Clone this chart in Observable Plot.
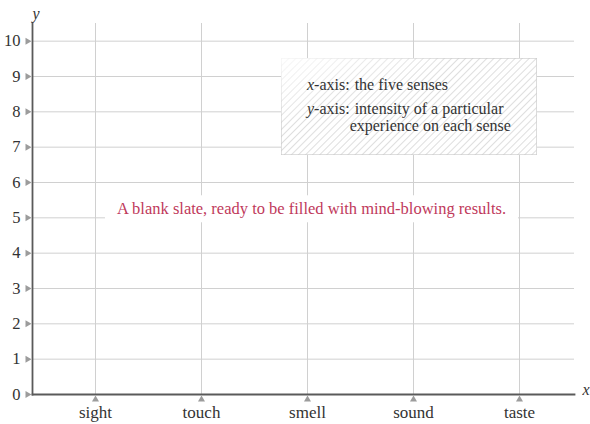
<!DOCTYPE html>
<html><head><meta charset="utf-8">
<script src="https://cdn.jsdelivr.net/npm/d3@7"></script>
<script src="https://cdn.jsdelivr.net/npm/@observablehq/plot@0.6"></script>
<style>body{margin:0;background:#fff}</style>
</head><body>
<script>
const senses = ["sight", "touch", "smell", "sound", "taste"];
const yTicks = [0, 1, 2, 3, 4, 5, 6, 7, 8, 9, 10];
const axisNameX = "x";
const axisNameY = "y";
const legendKeys = ["x", "y"];
const legendLabel = "-axis:";
const legendDescs = [["the five senses"], ["intensity of a particular", "experience on each sense"]];
const note = "A blank slate, ready to be filled with mind-blowing results.";

const FONT = "'Liberation Serif', 'DejaVu Serif', serif";
const INK = "#333";
const GRID = "#d0d0d0";
const AXIS = "#5a5a5a";
const TRI = "#9c9c9c";

const plot = Plot.plot({
  width: 590, height: 424,
  marginLeft: 32, marginRight: 16, marginTop: 23, marginBottom: 30,
  style: {fontFamily: FONT, fontSize: "16px", color: INK, background: "#fff"},
  x: {type: "point", domain: senses, padding: 0, insetLeft: 63, insetRight: 55},
  y: {domain: [0, 10.5]},
  marks: [
    Plot.gridX(senses, {stroke: GRID, strokeOpacity: 1, strokeWidth: 1}),
    Plot.gridY(yTicks, {stroke: GRID, strokeOpacity: 1, strokeWidth: 1}),
    Plot.frame({anchor: "left", stroke: AXIS, strokeWidth: 1.8}),
    Plot.frame({anchor: "bottom", stroke: AXIS, strokeWidth: 1.8}),
    Plot.axisY(yTicks, {tickSize: 0, tickPadding: 12, label: null, fontSize: 16.5}),
    Plot.axisX(senses, {tickSize: 0, tickPadding: 11, label: null, fontSize: 17}),
    Plot.dot(yTicks, {y: d => d, frameAnchor: "left", dx: -5, symbol: "triangle", rotate: 90, r: 2.6, fill: TRI, stroke: null}),
    Plot.dot(senses, {x: d => d, frameAnchor: "bottom", dy: 5, symbol: "triangle", r: 2.6, fill: TRI, stroke: null}),
    Plot.text([axisNameY], {frameAnchor: "top-left", dy: -16, text: d => d, fontStyle: "italic", fontSize: 16}),
    Plot.text([axisNameX], {frameAnchor: "bottom-right", dx: 8, textAnchor: "start", text: d => d, fontStyle: "italic", fontSize: 16}),
    Plot.text([note], {frameAnchor: "middle", dx: 8, dy: 0, text: d => d, fill: "#c0395b", fontSize: 16.5})
  ]
});
document.body.appendChild(plot);

const svg = d3.select(plot);
const xs = plot.scale("x"), ys = plot.scale("y");
const svgRect = plot.getBoundingClientRect();

// white background behind the note
svg.selectAll("text").filter(function() { return this.textContent === note; }).each(function() {
  const r = this.getBoundingClientRect();
  const g = this.parentNode;
  const rect = document.createElementNS("http://www.w3.org/2000/svg", "rect");
  rect.setAttribute("x", r.left - svgRect.left - 12);
  rect.setAttribute("y", r.top - svgRect.top - 4);
  rect.setAttribute("width", r.width + 24);
  rect.setAttribute("height", r.height + 8);
  rect.setAttribute("fill", "#fff");
  g.parentNode.insertBefore(rect, g);
});

// legend box
const defs = svg.append("defs");
const pat = defs.append("pattern").attr("id", "hatch").attr("patternUnits", "userSpaceOnUse")
  .attr("width", 5).attr("height", 5).attr("patternTransform", "rotate(45)");
pat.append("line").attr("x1", 0).attr("y1", 0).attr("x2", 0).attr("y2", 5)
  .attr("stroke", "#bdbdbd").attr("stroke-width", 1);
const grad = defs.append("linearGradient").attr("id", "fade").attr("x1", 0).attr("y1", 0).attr("x2", 1).attr("y2", 1);
grad.append("stop").attr("offset", "0%").attr("stop-color", "#fff").attr("stop-opacity", 0.2);
grad.append("stop").attr("offset", "35%").attr("stop-color", "#fff").attr("stop-opacity", 1);
grad.append("stop").attr("offset", "100%").attr("stop-color", "#fff").attr("stop-opacity", 1);
const mask = defs.append("mask").attr("id", "fademask").attr("maskContentUnits", "objectBoundingBox");
mask.append("rect").attr("width", 1).attr("height", 1).attr("fill", "url(#fade)");

const boxG = svg.append("g");
const lg = svg.append("g").attr("font-family", FONT).attr("font-size", 16).attr("fill", INK)
  .attr("text-anchor", "start");
const x0 = xs.apply("smell");
let by = ys.apply(9) + 14;
legendKeys.forEach((k, i) => {
  const head = lg.append("text").attr("x", x0).attr("y", by);
  head.append("tspan").attr("font-style", "italic").text(k);
  head.append("tspan").text(legendLabel);
  const w = head.node().getComputedTextLength();
  legendDescs[i].forEach((d, j) => {
    lg.append("text").attr("x", x0 + w + (j === 0 ? 5 : 0)).attr("y", by).text(d);
    by += j < legendDescs[i].length - 1 ? 17 : 24;
  });
});
const bb = lg.node().getBBox();
const bx = bb.x - 24, byy = bb.y - 18, bw = bb.width + 50, bh = bb.height + 38;
boxG.append("rect").attr("x", bx).attr("y", byy).attr("width", bw).attr("height", bh).attr("fill", "#fff");
const masked = boxG.append("g").attr("mask", "url(#fademask)");
masked.append("rect").attr("x", bx).attr("y", byy).attr("width", bw).attr("height", bh).attr("fill", "url(#hatch)")
  .attr("stroke", "#c8c8c8").attr("stroke-width", 1.2);
</script>
</body></html>
